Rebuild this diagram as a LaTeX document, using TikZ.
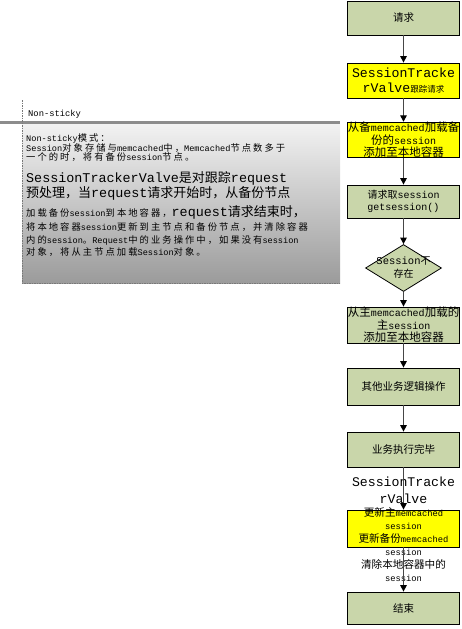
\documentclass[tikz,border=0pt]{standalone}
\usepackage{fontspec}
\setmainfont{Liberation Mono}
\newfontfamily\cjkfont{Noto Sans CJK SC}
\newfontfamily\cjkspaced[LetterSpace=22]{Noto Sans CJK SC}
\usetikzlibrary{arrows.meta,shapes.geometric}
\newXeTeXintercharclass\CJKcls
\makeatletter
\def\setcjkrange#1#2{\count@=#1\relax\loop\XeTeXcharclass\count@=\CJKcls\relax\ifnum\count@<#2\relax\advance\count@ by 1\relax\repeat}
\setcjkrange{"3000}{"303F}
\setcjkrange{"4E00}{"9FFF}
\setcjkrange{"FF00}{"FFEF}
\makeatother
\def\latsize{10}\def\cjksize{10}\def\mixskip{12}
\let\cjkfam\cjkfont
\newcommand\toCJK{\cjkfam\fontsize{\cjksize}{\mixskip}\selectfont}
\newcommand\toLat{\rmfamily\fontsize{\latsize}{\mixskip}\selectfont}
\newcommand\setmix[3]{\let\cjkfam\cjkfont\def\latsize{#1}\def\cjksize{#2}\def\mixskip{#3}\toLat}
\newcommand\setmixS[3]{\let\cjkfam\cjkspaced\def\latsize{#1}\def\cjksize{#2}\def\mixskip{#3}\toLat}
\XeTeXinterchartoks 0 \CJKcls = {\toCJK}
\XeTeXinterchartoks 4095 \CJKcls = {\toCJK}
\XeTeXinterchartoks \CJKcls 0 = {\toLat}
\XeTeXinterchartoks \CJKcls 4095 = {\toLat}
\XeTeXinterchartokenstate=1
\definecolor{boxgreen}{RGB}{201,214,170}
\definecolor{boxyellow}{RGB}{255,255,0}
\definecolor{bargray}{RGB}{140,140,140}
\definecolor{shtop}{RGB}{242,242,242}
\definecolor{shbot}{RGB}{155,155,155}
\definecolor{dashgray}{RGB}{120,120,120}
\definecolor{linegray}{RGB}{70,70,70}
\begin{document}
\begin{tikzpicture}[x=1pt,y=-1pt,
  flow/.style={draw=black, line width=0.8pt, minimum width=112pt, inner sep=0pt, align=center},
  gbox/.style={flow, fill=boxgreen},
  ybox/.style={flow, fill=boxyellow},
  arr/.style={draw=linegray, line width=1.3pt, -{Triangle[length=6.5pt,width=6.5pt,color=black]}},
  notetxt/.style={anchor=base west, inner sep=0pt},
  small/.style={font=\setmixS{8.6}{9.3}{12}},
  big/.style={font=\setmix{13.4}{13}{15}}]
\useasboundingbox (0,0) rectangle (461,629);
% note area
\shade[top color=shtop, bottom color=shbot] (22,124) rectangle (340,283);
\fill[bargray] (0,121) rectangle (340,124);
\draw[dashgray, line width=0.6pt, dash pattern=on 1.5pt off 1pt] (22,100) -- (22,283) -- (340,283);
\node[notetxt, font=\setmix{8.8}{10}{11}] (ns) at (28,116) {Non-sticky};
\node[notetxt, small] (n1) at (26,141) {Non-sticky模式：};
\node[notetxt, small] (n2) at (26,151) {Session对象存储与memcached中，Memcached节点数多于};
\node[notetxt, small] (n3) at (26,160) {一个的时，将有备份session节点。};
\node[notetxt, big] (n4) at (26,182) {SessionTrackerValve是对跟踪request};
\node[notetxt, big] (n5) at (26,197) {预处理，当request请求开始时，从备份节点};
\node[notetxt, small] (n6) at (26,216) {加载备份session到本地容器，\setmix{13.4}{13}{15}request请求结束时，};
\node[notetxt, small] (n7) at (26,230) {将本地容器session更新到主节点和备份节点，并清除容器};
\node[notetxt, small] (n8) at (26,243) {内的session。Request中的业务操作中，如果没有session};
\node[notetxt, small] (n9) at (26,255) {对象，将从主节点加载Session对象。};
% flow boxes
\node[gbox, minimum height=34pt, font=\setmix{10}{10.5}{12}] (b1) at (403.5,18) {请求};
\node[ybox, minimum height=35pt, font=\setmix{13.2}{8.5}{15}] (b2) at (403.5,80.5) {SessionTracke\\rValve跟踪请求};
\node[ybox, minimum height=34pt, font=\setmix{10}{11.5}{12.5}] (b3) at (403.5,140) {从备memcached加载备\\份的session\\添加至本地容器};
\node[gbox, minimum height=33pt, font=\setmix{10}{10}{12.5}] (b4) at (403.5,201.5) {请求取session\\getsession()};
\node[diamond, draw=black, line width=0.8pt, fill=boxgreen, minimum width=76pt, minimum height=47pt, inner sep=0pt] (d) at (403.5,268) {};
\node[font=\setmix{10.5}{10}{13}, align=center, inner sep=0pt] (dt) at (d.center) {Session不\\存在};
\node[gbox, minimum height=36pt, font=\setmix{10}{11.5}{12.5}] (b5) at (403.5,325) {从主memcached加载的\\主session\\添加至本地容器};
\node[gbox, minimum height=37pt, font=\setmix{10}{10.5}{12}] (b6) at (403.5,386.5) {其他业务逻辑操作};
\node[gbox, minimum height=35pt, font=\setmix{10}{10.5}{12}] (b7) at (403.5,449.5) {业务执行完毕};
\node[font=\setmix{13.2}{10}{17}, align=center, inner sep=0pt] (lbl) at (403.5,490.5) {SessionTracke\\rValve};
\node[ybox, minimum height=37pt] (b8) at (403.5,528.5) {};
\node[font=\setmix{8.8}{10.6}{13}, align=center, inner sep=0pt] (t8) at (403.5,545) {更新主memcached\\session\\更新备份memcached\\session\\清除本地容器中的\\session};
\node[gbox, minimum height=32pt, font=\setmix{10}{10.5}{12}] (b9) at (403.5,608) {结束};
% connectors
\draw[arr] (b1) -- (b2);
\draw[arr] (b2) -- (b3);
\draw[arr] (b3) -- (b4);
\draw[arr] (b4) -- (d);
\draw[arr] (d) -- (b5);
\draw[arr] (b5) -- (b6);
\draw[arr] (b6) -- (b7);
\draw[arr] (b7) -- (b8);
\draw[arr] (b8) -- (b9);
\end{tikzpicture}
\end{document}
